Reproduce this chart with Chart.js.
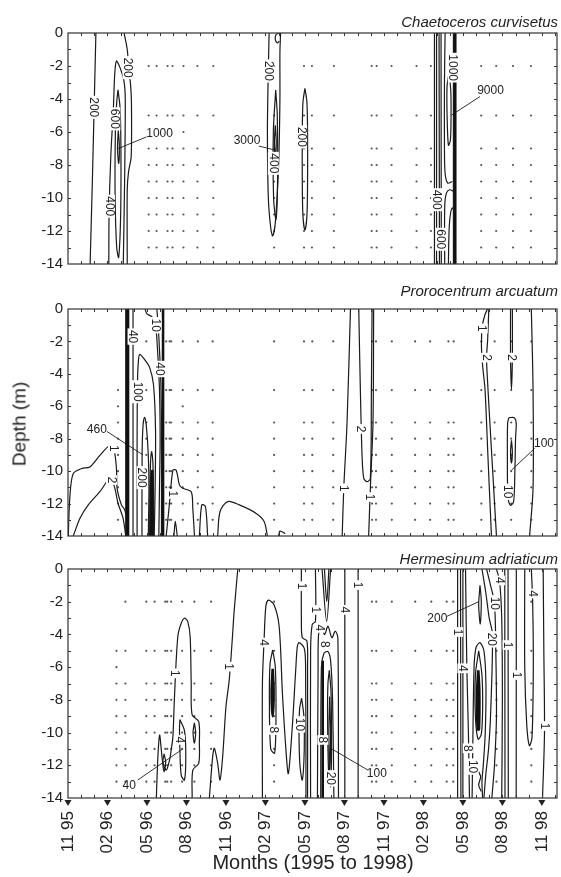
<!DOCTYPE html>
<html>
<head>
<meta charset="utf-8">
<script src="https://cdn.jsdelivr.net/npm/chart.js@4.4.1/dist/chart.umd.min.js"></script>
<style>
  body { margin: 0; background: #fff; }
  #page { position: relative; width: 561px; height: 877px; overflow: hidden;
          font-family: "Liberation Sans", Arial, sans-serif; color: #222; }
  canvas { position: absolute; left: 0; }
  .sp { position: absolute; right: 3px; font-size: 15px; line-height: 15px; font-style: italic; white-space: nowrap; }
  #ylab { position: absolute; left: 19px; top: 424px; font-size: 19px; line-height: 19px; white-space: nowrap;
          transform: translate(-50%, -50%) rotate(-90deg); }
  #xlab { position: absolute; left: 313px; top: 852px; font-size: 20px; line-height: 20px; white-space: nowrap;
          transform: translateX(-50%); }
</style>
</head>
<body>
<div id="page">
  <canvas id="c1" width="561" height="280" style="top:0px"></canvas>
  <canvas id="c2" width="561" height="260" style="top:290px"></canvas>
  <canvas id="c3" width="561" height="327" style="top:550px"></canvas>
  <div class="sp" style="top:14px">Chaetoceros curvisetus</div>
  <div class="sp" style="top:283px">Prorocentrum arcuatum</div>
  <div class="sp" style="top:551px">Hermesinum adriaticum</div>
  <div id="ylab">Depth (m)</div>
  <div id="xlab">Months (1995 to 1998)</div>
</div>
<script>
// axes
const monthTicks = [0, 3, 6, 9, 12, 15, 18, 21, 24, 27, 30, 33, 36];
const monthLabels = ['11 95', '02 96', '05 96', '08 96', '11 96', '02 97', '05 97',
                     '08 97', '11 97', '02 98', '05 98', '08 98', '11 98'];
const depthTicks = [0, -2, -4, -6, -8, -10, -12, -14];
const dotDepths = [-2, -5, -7, -8, -9, -10, -11, -12, -13];

// sampling dates (months since Nov 95)
const p1Dots = [6.13, 6.73, 7.56, 7.94, 8.77, 9.83, 11.04, 15.66, 17.93, 18.53, 20.2, 23.07, 23.45,
                24.58, 26.48, 27.57, 31.39, 32.53, 33.81, 35.17];
const p2Dots = [3.8, 5.95, 7.46, 7.72, 7.84, 8.72, 9.86, 10.99, 15.66, 17.93, 18.56, 20.15, 23.1, 23.4,
                24.6, 26.37, 27.51, 28.9, 29.3, 31.4, 32.41, 33.67, 35.2];
const p3Dots = [3.68, 4.36, 5.95, 6.58, 7.39, 7.54, 7.84, 8.67, 9.6, 10.87, 15.66, 23.09, 23.42, 24.6,
                26.38, 27.6, 28.77, 29.27, 32.55, 35.2];
const p1DotExtra = [[8.77, -6]];
const p2DotExtra = [[3.8, -6], [8.72, -6]];
const p3DotExtra = [[3.68, -6]];
const p2DotSkip = [[3.8, -2]];
const p3DotSkip = [[3.68, -2]];

// contour lines [month, depth]
const p1Lines = [
  [[2.12,0],[2.0,-4],[1.85,-9],[1.68,-14]],
  [[4.26,0],[4.5,-1.0],[4.62,-2.2],[4.75,-3.1],[4.82,-4.2],[4.8,-7.5],[4.6,-8.4],[4.5,-9.5],[4.5,-14]],
  [[3.1,-14],[3.12,-11],[3.25,-7.5],[3.45,-4.5],[3.55,-2.5],[3.68,-1.7],[3.95,-2.1],[4.25,-2.9],[4.35,-4],[4.3,-9],[4.2,-14]],
  [[3.8,-3.45],[3.95,-4.5],[4.02,-7],[4.0,-11],[3.85,-13.6],[3.7,-13],[3.58,-10],[3.6,-6],[3.7,-4.2],[3.8,-3.45]],
  [[3.82,-5.9],[3.9,-6.8],[3.85,-7.9],[3.76,-7],[3.82,-5.9]],
  [[15.28,0],[15.2,-3],[15.15,-6],[15.22,-10],[15.4,-11.8],[15.55,-12.3],[15.75,-11.5],[16.0,-8],[16.1,-4],[16.1,-1.2],[16.15,0]],
  [[15.78,-3.45],[15.9,-5],[15.92,-9],[15.8,-11.3],[15.62,-10],[15.6,-6],[15.78,-3.45]],
  [[15.75,-5.6],[15.82,-6.6],[15.75,-7.6],[15.68,-6.6],[15.75,-5.6]],
  [[16.0,0],[15.8,-0.1],[15.75,-0.4],[15.9,-0.6],[16.05,-0.5]],
  [[18.0,-3.35],[18.15,-4.2],[18.2,-6],[18.2,-9],[18.15,-11.1],[18.0,-11.95],[17.85,-11.1],[17.8,-9],[17.8,-6],[17.85,-4.2],[18.0,-3.35]],
  [[27.84,0],[27.84,-14]],
  [[28.0,0],[28.0,-14]],
  [[28.19,0],[28.22,-14]],
  [[28.34,0],[28.36,-14]],
  [[28.65,0],[28.6,-3],[28.6,-7],[28.65,-8.5],[28.85,-9.1],[29.2,-9.0]],
  [[28.95,-2.4],[29.08,-3.5],[29.1,-5],[29.05,-6.5],[28.9,-6.8],[28.8,-5],[28.8,-3.2],[28.95,-2.4]],
  [[28.62,-14],[28.62,-10.5],[28.75,-9.7],[29.0,-9.5],[29.3,-9.6]],
  [[28.9,-14],[28.95,-12],[29.05,-11],[29.2,-10.6],[29.35,-10.8]],
  [[29.28,0],[29.28,-14]]
];
const p1Heavy = [[[29.42,0],[29.42,-14]]];
const p1Leaders = [[[5.96,-6.3],[3.82,-7.0]], [[14.5,-6.85],[15.73,-7.1]], [[31.3,-3.85],[29.15,-4.97]]];
const p1Labels = [
  ['200',1.95,-4.5,1], ['200',4.56,-2.1,1], ['600',3.56,-5.2,1], ['400',3.15,-10.5,1], ['1000',6.96,-6.06,0],
  ['200',15.25,-2.3,1], ['3000',13.6,-6.5,0], ['400',15.6,-7.9,1], ['200',17.75,-6.3,1],
  ['1000',29.27,-2.1,1], ['9000',32.1,-3.45,0], ['400',28.0,-10.1,1], ['600',28.36,-12.5,1]
];

const p2Lines = [
  [[4.94,0],[4.94,-14]],
  [[5.85,0],[6.0,-0.3],[6.4,-0.5],[6.65,-1.0],[6.8,-2.5],[6.95,-5],[7.0,-8],[6.95,-11],[6.9,-14]],
  [[6.75,0],[6.85,-1],[6.98,-3],[7.05,-4.5],[7.1,-7],[7.1,-14]],
  [[5.25,-14],[5.25,-8],[5.28,-4.5],[5.35,-3.2],[5.45,-2.8],[5.8,-3.1],[6.2,-3.6],[6.5,-4.7],[6.65,-7.5],[6.62,-11],[6.55,-14]],
  [[5.62,-14],[5.63,-9],[5.7,-7.2],[5.82,-6.68],[5.95,-7.2],[6.1,-9],[6.15,-11],[6.1,-14]],
  [[6.2,-14],[6.25,-10],[6.35,-8.8],[6.45,-9.5],[6.5,-12],[6.45,-14]],
  [[0.02,-14],[0.15,-11.5],[0.4,-10.15],[1.04,-9.84],[1.66,-9.74],[2.42,-9.03],[3.18,-8.42],[3.5,-8.7],[3.68,-9.84],[3.73,-11.06],[4.06,-12.08],[4.31,-12.39],[4.44,-12.9]],
  [[0.4,-14],[0.91,-12.9],[1.54,-12.08],[2.42,-11.27],[3.05,-10.55],[3.3,-10.55],[3.56,-11.06],[3.8,-11.98],[4.18,-12.9],[4.39,-14]],
  [[7.46,-14],[7.72,-11.9],[7.97,-9.94],[8.22,-9.94],[8.47,-10.86],[8.72,-11.06],[9.36,-11.27],[9.48,-12.29],[9.61,-14]],
  [[8.05,-14],[8.15,-13.1],[8.3,-14]],
  [[9.98,-14],[10.16,-12.08],[10.44,-12.18],[10.61,-14]],
  [[11.37,-14],[11.55,-12.49],[12.13,-11.88],[13.01,-12.08],[14.27,-12.59],[14.9,-13.1],[15.15,-14]],
  [[16.0,-14],[16.1,-13.7],[16.5,-13.85]],
  [[21.46,0],[21.2,-7.0],[20.95,-11.06],[20.83,-14]],
  [[22.09,0],[22.21,-4.95],[22.34,-9.03],[22.47,-10.45],[22.72,-10.65],[22.97,-10.45],[23.05,-4.95],[23.1,0]],
  [[23.22,0],[23.17,-7.0],[22.97,-11.06],[22.84,-14]],
  [[31.87,0],[31.67,-0.37],[31.47,-1.08],[31.41,-2.3],[31.5,-3.5],[31.68,-4.95],[31.9,-9.03],[32.17,-14]],
  [[31.97,0],[31.88,-1.9],[31.8,-3.0],[31.85,-4.1],[32.05,-7.0],[32.55,-14]],
  [[33.62,0],[33.62,-3],[33.69,-4.95],[33.76,-3],[33.76,0]],
  [[35.2,0],[35.33,-4.95],[35.33,-11.06],[35.07,-14]],
  [[33.5,-6.7],[33.9,-6.7],[34.05,-7.0],[34.0,-8],[33.95,-10],[33.85,-11.9],[33.6,-12.1],[33.42,-11.5],[33.38,-9],[33.4,-7.0],[33.5,-6.7]],
  [[33.69,-8.1],[33.76,-8.8],[33.69,-9.5],[33.62,-8.8],[33.69,-8.1]]
];
const p2Heavy = [
  [[4.44,0],[4.44,-14]], [[4.56,0],[4.56,-14]], [[7.22,0],[7.22,-14]],
  [[6.3,-14],[6.32,-10.5],[6.4,-10],[6.45,-14]]
];
const p2Leaders = [[[2.95,-7.55],[5.7,-9.0]], [[35.45,-8.6],[33.69,-9.94]]];
const p2Labels = [
  ['40',4.94,-1.7,1], ['10',6.68,-1.0,1], ['40',7.0,-3.7,1], ['100',5.28,-5.1,1], ['200',5.63,-10.4,1],
  ['460',2.19,-7.4,0], ['1',3.45,-8.6,1], ['2',3.3,-10.55,1], ['1',7.97,-11.4,1],
  ['2',22.21,-7.4,1], ['1',20.95,-11.06,1], ['1',22.9,-11.6,1],
  ['1',31.47,-1.2,1], ['2',31.8,-3.0,1], ['2',33.69,-3.0,1], ['10',33.4,-11.27,1], ['100',36.16,-8.3,0]
];

const p3Lines = [
  [[6.71,-14],[6.83,-11.47],[6.96,-10.15],[7.09,-11.06],[7.21,-11.86],[7.47,-12.29],[7.72,-11.67],[7.84,-11.06],[7.97,-10.25],[8.09,-7.81],[8.34,-4.14],[8.6,-3.32],[8.85,-3.01],[9.1,-3.22],[9.28,-4.14],[9.36,-6.99],[9.43,-8.92],[9.93,-9.33],[9.98,-10.65],[9.93,-11.88],[9.48,-12.29],[9.43,-14]],
  [[8.5,-9.2],[8.85,-9.9],[8.95,-11.5],[8.85,-12.9],[8.6,-12.6],[8.5,-11],[8.47,-9.8],[8.5,-9.2]],
  [[7.3,-11.3],[7.42,-11.8],[7.3,-12.4],[7.2,-11.8],[7.3,-11.3]],
  [[9.6,-9.4],[9.7,-10.0],[9.6,-10.65],[9.5,-10.0],[9.6,-9.4]],
  [[10.74,-14],[10.99,-11.47],[11.12,-10.96],[11.37,-11.88],[11.55,-12.9],[11.75,-11.47],[12.0,-8.42],[12.25,-6.78],[12.46,-4.54],[12.63,-2.5],[12.9,0]],
  [[14.77,-14],[14.77,-7],[14.9,-4.3],[15.03,-2.3],[15.23,-1.9],[15.66,-2.2],[16.04,-3.5],[16.29,-7.6],[16.54,-10.86],[16.74,-12.5],[17.04,-9.64],[17.3,-6.17],[17.42,-4.75],[17.55,-4.5],[17.95,-4.85],[18.05,-6],[18.08,-14]],
  [[15.55,-4.95],[15.75,-6],[15.8,-9],[15.7,-11.25],[15.4,-11],[15.3,-8],[15.35,-5.8],[15.55,-4.95]],
  [[17.73,0],[17.73,-3],[17.8,-4.2],[18.15,-4.4],[18.2,-6],[18.2,-14]],
  [[17.75,-7.9],[17.92,-9],[17.95,-11],[17.8,-12.9],[17.62,-12],[17.55,-10],[17.6,-8.5],[17.75,-7.9]],
  [[18.8,0],[18.8,-3.2],[18.55,-3.4],[18.43,-5],[18.43,-14]],
  [[18.95,-14],[19.0,-6],[19.05,-3.9],[19.3,-3.7],[19.5,-4.0],[19.75,-3.5],[20.05,-4.2],[20.3,-3.8],[20.5,-4.2],[20.55,-14]],
  [[19.2,-14],[19.25,-6],[19.45,-5.15],[19.75,-5.05],[19.95,-5.6],[20.1,-8],[20.2,-14]],
  [[19.85,-6.2],[19.98,-7.5],[20.02,-11],[19.95,-13.3],[19.8,-12.5],[19.72,-9],[19.75,-7],[19.85,-6.2]],
  [[19.88,-7.8],[19.95,-10],[19.88,-12.4],[19.82,-10],[19.88,-7.8]],
  [[19.3,0],[19.65,-3.2],[19.95,0]],
  [[19.48,0],[19.66,-2.0],[19.82,0]],
  [[21.03,0],[21.03,-14]],
  [[22.04,0],[22.04,-14]],
  [[29.6,0],[29.6,-14]],
  [[29.82,0],[29.85,-14]],
  [[30.0,0],[30.0,-14]],
  [[30.2,0],[30.3,-6],[30.42,-10],[30.5,-14]],
  [[30.7,-14],[30.75,-11],[30.85,-6],[31.0,-4.8],[31.3,-4.5],[31.6,-5],[31.75,-7],[31.7,-10],[31.55,-12],[31.45,-13],[31.5,-14]],
  [[31.2,-5.0],[31.45,-6.5],[31.5,-8.5],[31.4,-10.1],[31.15,-10.4],[30.95,-9],[30.95,-6.5],[31.2,-5.0]],
  [[31.3,-1.0],[31.4,-2.0],[31.32,-3.35],[31.2,-2.2],[31.3,-1.0]],
  [[31.45,0],[31.75,-1.5],[32.0,-3.0],[32.25,-4],[32.1,-9],[31.95,-11],[31.75,-12.5],[31.6,-14]],
  [[31.8,0],[32.1,-1],[32.4,-2.1],[32.5,-5],[32.55,-9],[32.4,-12],[32.2,-14]],
  [[32.55,0],[32.78,-0.7],[32.95,-3],[33.0,-8],[32.95,-14]],
  [[33.18,0],[33.2,-14]],
  [[33.43,0],[33.45,-14]],
  [[34.06,0],[34.05,-14]],
  [[34.7,0],[34.7,-6],[34.85,-9.5],[35.05,-10.8],[35.25,-10.3],[35.35,-6],[35.3,-2],[35.2,0]],
  [[36.1,0],[36.15,-5],[36.2,-10],[36.05,-14]],
  [[31.2,-12.4],[31.35,-12.7],[31.2,-13.2],[31.4,-13.6]]
];
const p3Heavy = [
  [[19.35,-5.6],[19.35,-14]],
  [[31.17,-6.2],[31.25,-7.5],[31.22,-9.8],[31.12,-9.8],[31.08,-7.5],[31.17,-6.2]],
  [[15.55,-6.1],[15.62,-7.5],[15.55,-9],[15.47,-7.5],[15.55,-6.1]]
];
const p3Leaders = [[[5.3,-12.9],[8.72,-11.0]], [[28.77,-2.9],[31.2,-2.0]], [[22.8,-12.3],[19.95,-10.96]]];
const p3Labels = [
  ['1',8.09,-6.38,1], ['4',8.47,-10.45,1], ['40',4.65,-13.2,0], ['1',12.25,-5.97,1], ['4',14.85,-4.5,1],
  ['8',15.66,-9.84,1], ['1',17.73,-1.05,1], ['10',17.6,-9.5,1], ['1',18.8,-2.5,1], ['4',19.1,-3.6,1],
  ['8',19.5,-4.6,1], ['8',19.36,-10.45,1], ['20',19.95,-12.8,1], ['100',23.46,-12.47,0],
  ['4',21.03,-2.5,1], ['1',22.04,-0.98,1], ['1',29.6,-3.85,1], ['4',30.0,-6.07,1], ['8',30.41,-10.96,1],
  ['200',28.06,-3.0,0], ['10',32.4,-2.1,1], ['20',32.22,-4.3,1], ['4',32.78,-0.7,1], ['10',30.77,-12.08,1],
  ['1',33.43,-4.65,1], ['1',34.06,-6.48,1], ['4',35.3,-1.5,1], ['1',36.2,-9.6,1]
];

Chart.defaults.font.family = '"Liberation Sans", Arial, sans-serif';
Chart.defaults.color = '#222';

const xy = p => ({ x: p[0], y: p[1] });

const deco = {
  id: 'deco',
  afterDatasetsDraw(chart, args, o) {
    const { ctx, chartArea: a, scales: { x, y } } = chart;
    ctx.save();
    ctx.font = '12px "Liberation Sans", Arial, sans-serif';
    ctx.textAlign = 'center';
    ctx.textBaseline = 'middle';
    for (const [t, m, d, r] of o.labels) {
      const px = x.getPixelForValue(m), py = y.getPixelForValue(d);
      const w = ctx.measureText(t).width + 3;
      ctx.save();
      ctx.translate(px, py);
      if (r) {
        ctx.rotate(Math.PI / 2);
        ctx.fillStyle = '#fff';
        ctx.fillRect(-w / 2, -5.5, w, 11);
      }
      ctx.fillStyle = '#222';
      ctx.fillText(t, 0, 0.5);
      ctx.restore();
    }
    // frame and inward ticks
    ctx.strokeStyle = '#333';
    ctx.lineWidth = 1.2;
    ctx.strokeRect(a.left, a.top, a.width, a.height);
    ctx.lineWidth = 1;
    ctx.beginPath();
    for (let d = -13; d <= -1; d++) {
      const py = Math.round(y.getPixelForValue(d)) + 0.5;
      ctx.moveTo(a.left, py); ctx.lineTo(a.left + 3, py);
      ctx.moveTo(a.right, py); ctx.lineTo(a.right - 3, py);
    }
    for (let m = 1; m <= 37; m++) {
      const px = Math.round(x.getPixelForValue(m)) + 0.5;
      ctx.moveTo(px, a.top); ctx.lineTo(px, a.top + 3);
      ctx.moveTo(px, a.bottom); ctx.lineTo(px, a.bottom - 3);
    }
    ctx.stroke();
    if (o.marks) {
      ctx.fillStyle = '#222';
      for (const m of monthTicks) {
        const px = x.getPixelForValue(m);
        ctx.beginPath();
        ctx.moveTo(px - 3.5, a.bottom + 2);
        ctx.lineTo(px + 3.5, a.bottom + 2);
        ctx.lineTo(px, a.bottom + 8);
        ctx.closePath();
        ctx.fill();
      }
    }
    ctx.restore();
  }
};

function dotList(cols, extra, skip) {
  const out = [];
  for (const m of cols) {
    for (const d of dotDepths) {
      if (skip.some(s => s[0] === m && s[1] === d)) continue;
      out.push({ x: m, y: d });
    }
  }
  extra.forEach(p => out.push(xy(p)));
  return out;
}

function panel(id, padTop, padBottom, lines, heavy, leaders, dots, labels, bottom) {
  const datasets = [];
  lines.forEach(l => datasets.push({ data: l.map(xy), showLine: true, borderColor: '#1a1a1a',
    borderWidth: 1.2, pointRadius: 0, tension: 0.3 }));
  heavy.forEach(l => datasets.push({ data: l.map(xy), showLine: true, borderColor: '#111',
    borderWidth: 2.6, pointRadius: 0, tension: 0.3 }));
  leaders.forEach(l => datasets.push({ data: l.map(xy), showLine: true, borderColor: '#333',
    borderWidth: 1, pointRadius: 0, tension: 0 }));
  datasets.push({ data: dots, showLine: false, pointRadius: 1.1, pointBackgroundColor: '#555',
    pointBorderWidth: 0 });

  return new Chart(document.getElementById(id), {
    type: 'scatter',
    data: { datasets },
    options: {
      responsive: false,
      animation: false,
      devicePixelRatio: 1,
      layout: { padding: { top: padTop, bottom: padBottom, left: 0, right: 2 } },
      plugins: {
        legend: { display: false },
        tooltip: { enabled: false },
        deco: { labels, marks: bottom }
      },
      scales: {
        x: {
          type: 'linear', min: 0, max: 37.15, display: bottom,
          afterBuildTicks: s => { s.ticks = monthTicks.map(v => ({ value: v })); },
          afterFit: s => {
            if (bottom) s.height = 79;
            s.paddingLeft = 0;
            s.paddingRight = 0;
          },
          grid: { display: false, drawTicks: false },
          border: { display: false },
          ticks: { padding: 13, minRotation: 90, maxRotation: 90, autoSkip: false,
                   font: { size: 17 }, color: '#222',
                   callback: (v, i) => monthLabels[i] }
        },
        y: {
          type: 'linear', min: -14, max: 0,
          afterBuildTicks: s => { s.ticks = depthTicks.map(v => ({ value: v })); },
          afterFit: s => { s.width = 68; },
          grid: { display: false, drawTicks: false },
          border: { display: false },
          ticks: { padding: 5, font: { size: 15 }, color: '#222' }
        }
      }
    },
    plugins: [deco]
  });
}

panel('c1', 33, 16, p1Lines, p1Heavy, p1Leaders, dotList(p1Dots, p1DotExtra, []), p1Labels, false);
panel('c2', 19, 12, p2Lines, p2Heavy, p2Leaders, dotList(p2Dots, p2DotExtra, p2DotSkip), p2Labels, false);
panel('c3', 19, 0, p3Lines, p3Heavy, p3Leaders, dotList(p3Dots, p3DotExtra, p3DotSkip), p3Labels, true);
</script>
</body>
</html>
